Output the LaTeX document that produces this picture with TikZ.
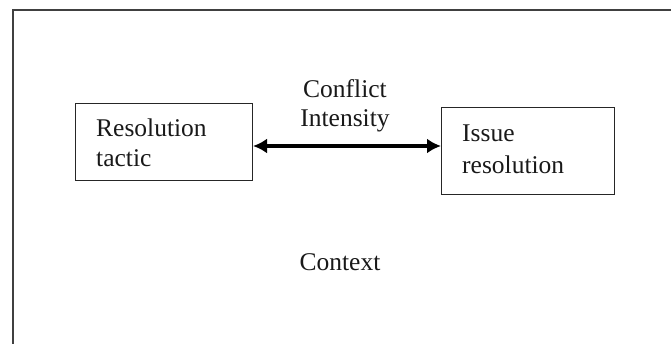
\documentclass[tikz,border=0pt]{standalone}
\usepackage{fontspec}
\setmainfont{Liberation Serif}
\usetikzlibrary{arrows.meta}
\begin{document}
\begin{tikzpicture}[x=1pt,y=1pt,
  boxstyle/.style={draw=black!85, line width=1pt, inner sep=0pt},
  txt/.style={font=\fontsize{25.5}{30}\selectfont, inner sep=0pt, text=black!90},
  link/.style={line width=4pt, {Latex[length=14pt,width=15pt]}-{Latex[length=14pt,width=15pt]}}]
\useasboundingbox (0,0) rectangle (671,343);
\begin{scope}
\clip (0,0) rectangle (671,343);
\draw[draw=black!75, line width=1.6pt] (13,-20) rectangle (700,333);
\end{scope}
\node[boxstyle, minimum width=177pt, minimum height=77pt, anchor=south west] (tactic) at (75,162) {};
\node[boxstyle, minimum width=173pt, minimum height=87pt, anchor=south west] (issue) at (441,148) {};
\node[txt, anchor=base west] (t1) at (96,206) {Resolution};
\node[txt, anchor=base west] (t2) at (96,176) {tactic};
\node[txt, anchor=base west] (i1) at (462,201) {Issue};
\node[txt, anchor=base west] (i2) at (462,170) {resolution};
\node[txt, anchor=base] (c1) at (345,245) {Conflict};
\node[txt, anchor=base] (c2) at (345,216) {Intensity};
\node[txt, anchor=base] (ctx) at (340,73) {Context};
\draw[link] (tactic.east |- 0,197) -- (issue.west |- 0,197);
\end{tikzpicture}
\end{document}
